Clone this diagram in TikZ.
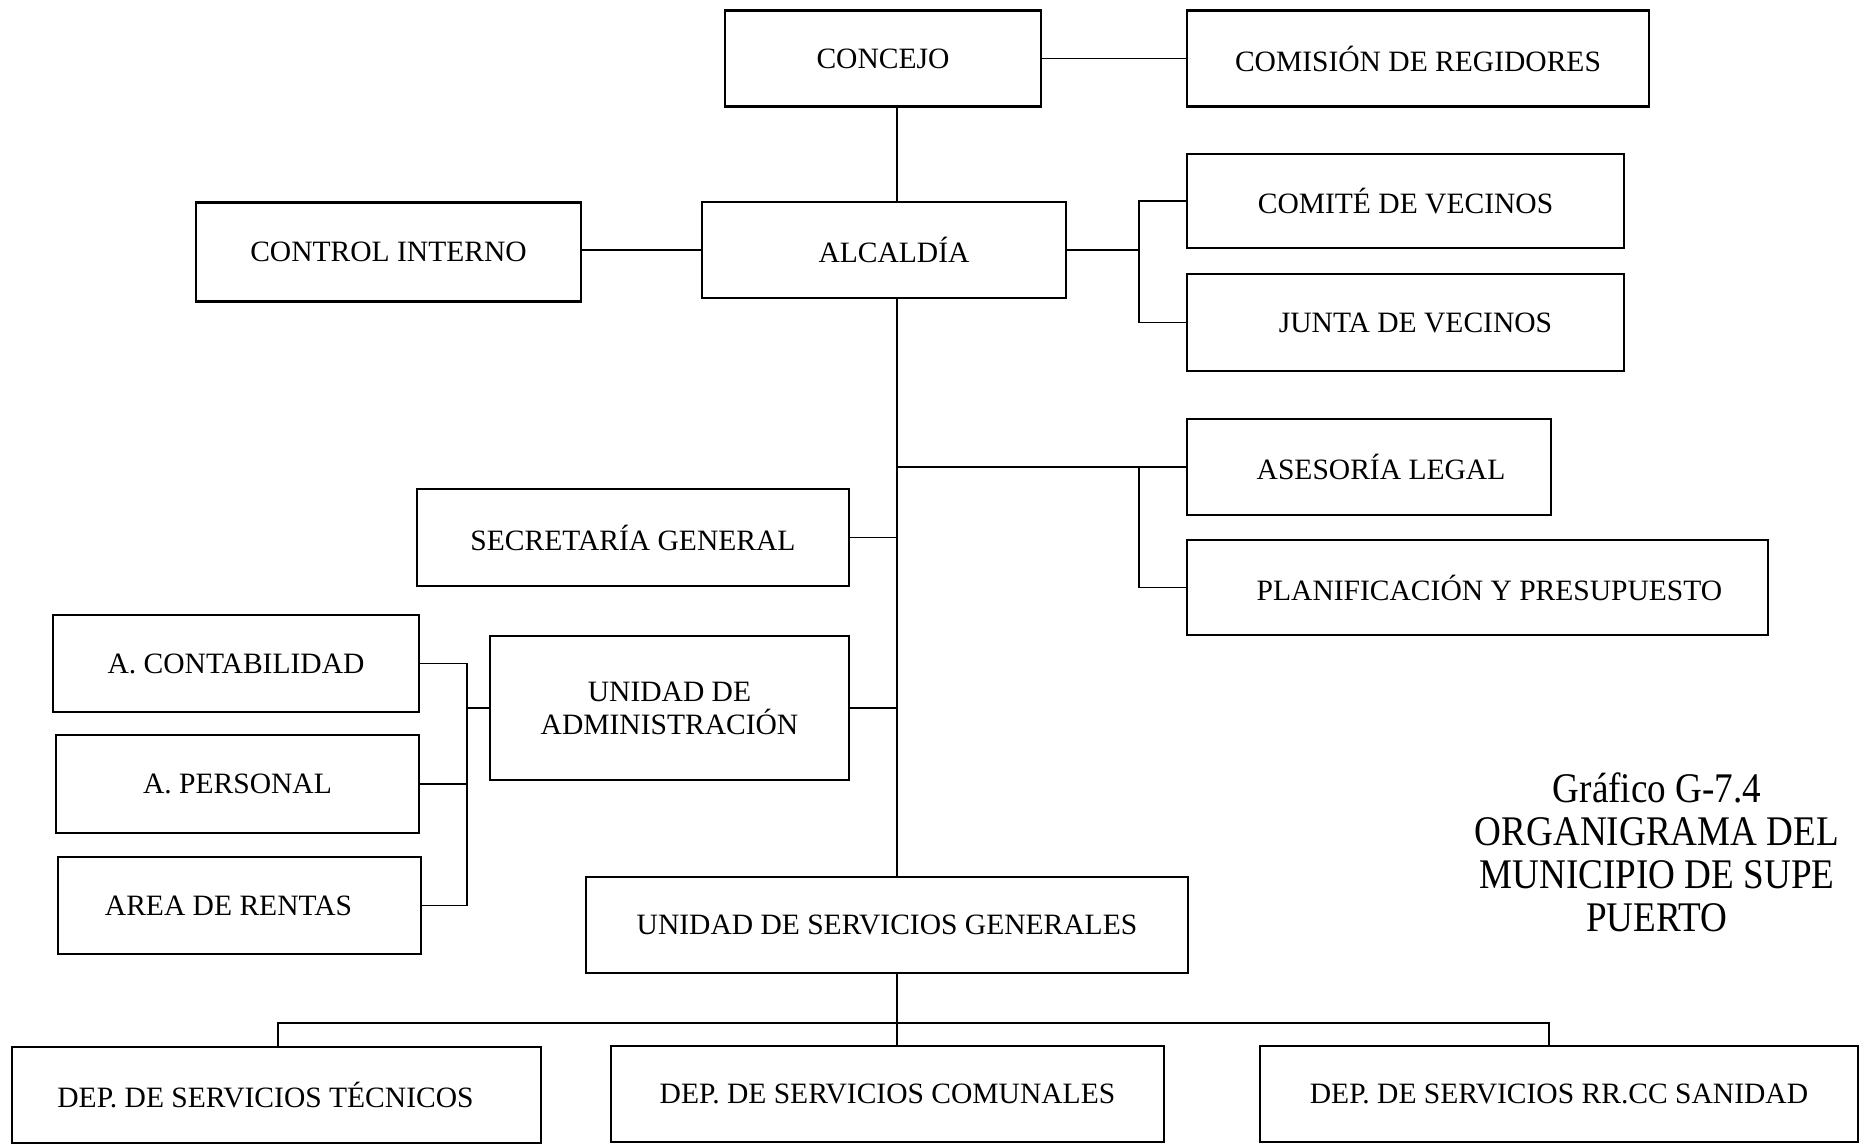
\documentclass[tikz,border=0pt]{standalone}
\usepackage{fontspec}
\setmainfont{Liberation Serif}
\newfontfamily\titlefont{Liberation Serif}[FakeStretch=0.88]

\begin{document}
\begin{tikzpicture}[x=0.01cm, y=-0.01cm,
    orgbox/.style={draw, line width=0.7pt, inner sep=2pt, align=center, minimum height=0.96cm, font=\fontsize{8.4}{9.4}\selectfont},
    link/.style={line width=0.55pt}]
  \useasboundingbox (0,0) rectangle (1860,1144);

  % cuerpo directivo
  \node[orgbox, minimum width=3.16cm] (concejo) at (883,58.5) {CONCEJO};
  \node[orgbox, minimum width=4.62cm] (comision) at (1418,58.5) {COMISIÓN DE REGIDORES};
  \node[orgbox, minimum width=3.64cm] (alcaldia) at (884,250) {\kern0.2cm ALCALDÍA};
  \node[orgbox, minimum width=3.85cm, minimum height=0.99cm] (control) at (388.5,252) {CONTROL INTERNO};
  \node[orgbox, minimum width=4.37cm, minimum height=0.94cm] (comite) at (1405.5,201) {COMITÉ DE VECINOS};
  \node[orgbox, minimum width=4.37cm, minimum height=0.97cm] (junta) at (1405.5,322.5) {\kern0.2cm JUNTA DE VECINOS};

  % asesoria y apoyo
  \node[orgbox, minimum width=3.64cm] (asesoria) at (1369,467) {\kern0.24cm ASESORÍA LEGAL};
  \node[orgbox, minimum width=5.81cm, minimum height=0.95cm] (planif) at (1477.5,587.5) {\kern0.24cm PLANIFICACIÓN Y PRESUPUESTO};
  \node[orgbox, minimum width=4.32cm, minimum height=0.97cm] (secretaria) at (633,537.5) {SECRETARÍA GENERAL};
  \node[orgbox, minimum width=3.59cm, minimum height=1.44cm] (admin) at (669.5,708) {UNIDAD DE\\ADMINISTRACIÓN};
  \node[orgbox, minimum width=3.66cm, minimum height=0.97cm] (contab) at (236,663.5) {A. CONTABILIDAD};
  \node[orgbox, minimum width=3.63cm, minimum height=0.98cm] (personal) at (237.5,784) {A. PERSONAL};
  \node[orgbox, minimum width=3.63cm, minimum height=0.97cm] (rentas) at (239.5,905.5) {AREA DE RENTAS\kern0.22cm};

  % servicios
  \node[orgbox, minimum width=6.02cm] (usg) at (887,925) {UNIDAD DE SERVICIOS GENERALES};
  \node[orgbox, minimum width=5.29cm] (tecnicos) at (276.5,1095) {DEP. DE SERVICIOS TÉCNICOS\kern0.22cm};
  \node[orgbox, minimum width=5.53cm] (comunales) at (887.5,1094) {DEP. DE SERVICIOS COMUNALES};
  \node[orgbox, minimum width=5.98cm] (sanidad) at (1559,1094) {DEP. DE SERVICIOS RR.CC SANIDAD};

  \node[align=center, font=\titlefont\fontsize{12}{12.2}\selectfont] (titulo) at (1657,852)
    {Gráfico G-7.4\\ORGANIGRAMA DEL\\MUNICIPIO DE SUPE\\PUERTO};

  % ejes de conexion
  \coordinate (spine) at (897,0);
  \coordinate (vder) at (1139,250);
  \coordinate (vadm) at (467,708);
  \coordinate (busL) at (278,1023);
  \coordinate (busR) at (1549,1023);

  \draw[link] (concejo) -- (comision);
  \draw[link] (concejo.south -| spine) -- (alcaldia.north -| spine);
  \draw[link] (control.east |- alcaldia) -- (alcaldia);
  \draw[link] (alcaldia.east) -- (alcaldia.east -| vder);
  \draw[link] (comite.west) -| (vder) |- (junta.west);
  \draw[link] (alcaldia.south -| spine) -- (usg.north -| spine);
  \draw[link] (asesoria.west -| spine) -- (asesoria.west);
  \draw[link] (asesoria.west -| vder) |- (planif.west);
  \draw[link] (secretaria.east) -- (secretaria.east -| spine);
  \draw[link] (admin.east) -- (admin.east -| spine);
  \draw[link] (admin.west) -- (vadm);
  \draw[link] (contab.east) -| (vadm) |- (rentas.east);
  \draw[link] (personal.east) -- (personal.east -| vadm);
  \draw[link] (usg.south -| spine) -- (comunales.north -| spine);
  \draw[link] (tecnicos.north -| busL) |- (busR) -- (sanidad.north -| busR);
\end{tikzpicture}
\end{document}
